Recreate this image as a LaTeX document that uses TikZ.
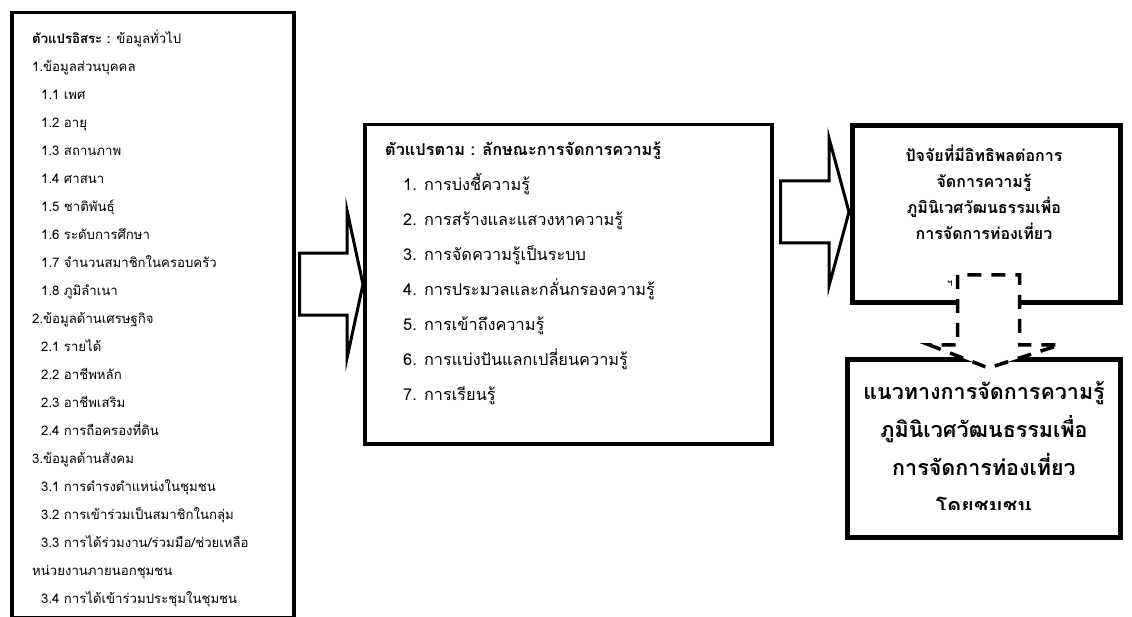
\documentclass[tikz,border=0pt]{standalone}
\usepackage{fontspec}
\setmainfont[Script=Thai]{Loma}
\usepackage{tikz}
\usetikzlibrary{positioning,calc}
\definecolor{ink}{HTML}{000000}
\newcommand\indsub{\hspace*{9pt}}
\tikzset{
  frame/.style={draw=ink,line width=3.5pt,fill=white,inner sep=0pt},
  thickframe/.style={frame,line width=5pt},
  listtext/.style={align=left,anchor=north west,inner sep=0pt,text=ink},
  headtext/.style={align=center,inner sep=0pt,text=ink,font=\bfseries},
  blockarrow/.style={draw=ink,line width=3pt,fill=white,line join=miter},
  dasharrow/.style={blockarrow,line width=3.5pt,dash pattern=on 14pt off 10pt}
}

\begin{document}
\begin{tikzpicture}[x=1pt,y=-1pt]
  \useasboundingbox (0,0) rectangle (1132,617);
  % boxes
  \node[frame,minimum width=282pt,minimum height=605pt,anchor=north west] (indep) at (10,11) {};
  \node[frame,minimum width=407pt,minimum height=319pt,anchor=north west] (dep) at (363,123) {};
  \node[thickframe,minimum width=268pt,minimum height=177pt,anchor=north west] (factor) at (850,123) {};
  \node[thickframe,minimum width=273pt,minimum height=178pt,anchor=north west] (guide) at (845,357) {};
  % texts
  \node[listtext,font=\fontsize{13.2}{28}\selectfont] (indeplist) at (32,30) {\textbf{ตัวแปรอิสระ :} ข้อมูลทั่วไป\\
    1.ข้อมูลส่วนบุคคล\\ \indsub 1.1 เพศ\\ \indsub 1.2 อายุ\\ \indsub 1.3 สถานภาพ\\ \indsub 1.4 ศาสนา\\
    \indsub 1.5 ชาติพันธุ์\\ \indsub 1.6 ระดับการศึกษา\\ \indsub 1.7 จำนวนสมาชิกในครอบครัว\\ \indsub 1.8 ภูมิลำเนา\\
    2.ข้อมูลด้านเศรษฐกิจ\\ \indsub 2.1 รายได้\\ \indsub 2.2 อาชีพหลัก\\ \indsub 2.3 อาชีพเสริม\\ \indsub 2.4 การถือครองที่ดิน\\
    3.ข้อมูลด้านสังคม\\ \indsub 3.1 การดำรงตำแหน่งในชุมชน\\ \indsub 3.2 การเข้าร่วมเป็นสมาชิกในกลุ่ม\\
    \indsub 3.3 การได้ร่วมงาน/ร่วมมือ/ช่วยเหลือ\\ หน่วยงานภายนอกชุมชน\\ \indsub 3.4 การได้เข้าร่วมประชุมในชุมชน};
  \node[listtext,font=\fontsize{16.3}{35}\selectfont] (deplist) at (385,142) {\textbf{ตัวแปรตาม : ลักษณะการจัดการความรู้}\\
    \hspace*{18pt}1. การบ่งชี้ความรู้\\ \hspace*{18pt}2. การสร้างและแสวงหาความรู้\\ \hspace*{18pt}3. การจัดความรู้เป็นระบบ\\
    \hspace*{18pt}4. การประมวลและกลั่นกรองความรู้\\ \hspace*{18pt}5. การเข้าถึงความรู้\\
    \hspace*{18pt}6. การแบ่งปันแลกเปลี่ยนความรู้\\ \hspace*{18pt}7. การเรียนรู้};
  \node[headtext,font=\bfseries\fontsize{16}{26}\selectfont,anchor=north] (factortext) at (984,145)
    {ปัจจัยที่มีอิทธิพลต่อการ\\จัดการความรู้\\ภูมินิเวศวัฒนธรรมเพื่อ\\การจัดการท่องเที่ยว};
  \node[text=ink,font=\fontsize{10}{12}\selectfont] (stray) at (950,284) {ฯ};
  \begin{scope}
    \clip (guide.north west) rectangle ($(guide.south east)+(0,-31)$);
    \node[headtext,font=\bfseries\fontsize{21.5}{38}\selectfont,anchor=north] (guidetext) at (984,381)
      {แนวทางการจัดการความรู้\\ภูมินิเวศวัฒนธรรมเพื่อ\\การจัดการท่องเที่ยว\\โดยชุมชน};
  \end{scope}
  % block arrows
  \coordinate (tipA) at (dep.west);
  \draw[blockarrow] ($(indep.east|-tipA)+(4,-31)$) -- ($(tipA)+(-16,-31)$) -- ($(tipA)+(-16,-74)$) -- (tipA)
    -- ($(tipA)+(-16,74)$) -- ($(tipA)+(-16,31)$) -- ($(indep.east|-tipA)+(4,31)$) -- cycle;
  \coordinate (tipB) at ($(factor.west)+(-1,-2)$);
  \draw[blockarrow] ($(dep.east|-tipB)+(7,-31)$) -- ($(tipB)+(-20,-31)$) -- ($(tipB)+(-20,-74)$) -- (tipB)
    -- ($(tipB)+(-20,74)$) -- ($(tipB)+(-20,31)$) -- ($(dep.east|-tipB)+(7,31)$) -- cycle;
  \coordinate (tipC) at ($(factor.south|-guide.north)+(2,11)$);
  \draw[dasharrow] ($(tipC)+(-31,-93)$) -- ($(tipC)+(-31,-23)$) -- ($(tipC)+(-59,-23)$) -- (tipC)
    -- ($(tipC)+(71,-23)$) -- ($(tipC)+(31,-23)$) -- ($(tipC)+(31,-93)$) -- cycle;
\end{tikzpicture}
\end{document}
